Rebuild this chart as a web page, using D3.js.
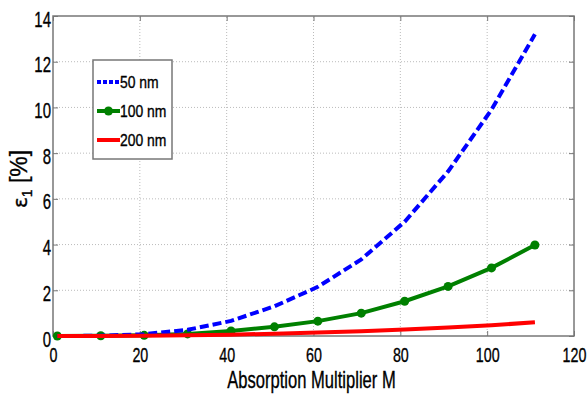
<!DOCTYPE html>
<html>
<head>
<meta charset="utf-8">
<script src="https://cdn.jsdelivr.net/npm/d3@7"></script>
<style>
  body { margin: 0; background: #fff; }
  svg { display: block; }
  text { font-family: "Liberation Sans", Arial, sans-serif; fill: #000; stroke: #000; stroke-width: 0.35; }
</style>
</head>
<body>
<svg id="chart" width="588" height="401"></svg>
<script>
/* ---------- data ---------- */
const multiplier = [1, 11, 21, 31, 41, 51, 61, 71, 81, 91, 101, 111];
const eps50  = [0.0, 0.01, 0.08, 0.27, 0.66, 1.3, 2.15, 3.35, 5.0, 7.2, 9.9, 13.2];
const eps100 = [0.0, 0.01, 0.03, 0.09, 0.22, 0.4, 0.65, 1.0, 1.52, 2.17, 2.98, 3.98];
const eps200 = [0.0, 0.0, 0.01, 0.03, 0.06, 0.1, 0.15, 0.21, 0.28, 0.37, 0.47, 0.6];
const xTicks = [0, 20, 40, 60, 80, 100, 120];
const yTicks = [0, 2, 4, 6, 8, 10, 12, 14];

const series = [
  { label: '50 nm',  values: eps50,  color: '#0000ff', dash: '9,4', marker: false },
  { label: '100 nm', values: eps100, color: '#008000', dash: null,  marker: true },
  { label: '200 nm', values: eps200, color: '#ff0000', dash: null,  marker: false },
];

/* ---------- layout ---------- */
const margin = { left: 53, right: 14, top: 16, bottom: 65 };
const W = 588, H = 401;
const NARROW = 0.68;   // text in the picture is squeezed sideways
const svg = d3.select('#chart');
const x = d3.scaleLinear().domain([0, 120]).range([margin.left, W - margin.right]);
const y = d3.scaleLinear().domain([0, 14]).range([H - margin.bottom, margin.top]);

// grid
const grid = svg.append('g');
xTicks.slice(1, -1).forEach(t => {
  grid.append('line').attr('x1', x(t)).attr('x2', x(t)).attr('y1', y(0)).attr('y2', y(14))
    .attr('stroke', '#bbb').attr('stroke-dasharray', '1,2');
});
yTicks.slice(1, -1).forEach(t => {
  grid.append('line').attr('x1', x(0)).attr('x2', x(120)).attr('y1', y(t)).attr('y2', y(t))
    .attr('stroke', '#bbb').attr('stroke-dasharray', '1,2');
});

// axes (ticks inward, all four sides)
const xAxis = svg.append('g').attr('transform', `translate(0,${y(0)})`)
  .call(d3.axisBottom(x).tickValues(xTicks).tickSizeInner(-5).tickSizeOuter(0));
const yAxis = svg.append('g').attr('transform', `translate(${x(0)},0)`)
  .call(d3.axisLeft(y).tickValues(yTicks).tickSizeInner(-5).tickSizeOuter(0));
svg.append('g').attr('transform', `translate(0,${y(14)})`)
  .call(d3.axisTop(x).tickValues(xTicks).tickSizeInner(-5).tickSizeOuter(0).tickFormat(''));
svg.append('g').attr('transform', `translate(${x(120)},0)`)
  .call(d3.axisRight(y).tickValues(yTicks).tickSizeInner(-5).tickSizeOuter(0).tickFormat(''));
svg.selectAll('.domain').remove();
svg.selectAll('.tick line').attr('stroke', '#777');
xAxis.selectAll('text').attr('font-size', 21).attr('x', 0).attr('y', 0).attr('dy', null)
  .attr('transform', `translate(0,26) scale(${NARROW},1)`);
yAxis.selectAll('text').attr('font-size', 22).attr('x', 0).attr('dy', null)
  .attr('transform', `translate(-2,10) scale(${NARROW},1)`);

// box
svg.append('rect').attr('x', x(0)).attr('y', y(14))
  .attr('width', x(120) - x(0)).attr('height', y(0) - y(14))
  .attr('fill', 'none').attr('stroke', '#777').attr('stroke-width', 1.5);

// lines
const line = d3.line().x((d, i) => x(multiplier[i])).y(d => y(d));
const plot = svg.append('g');
[series[1], series[0], series[2]].forEach(s => {
  plot.append('path').datum(s.values).attr('d', line)
    .attr('fill', 'none').attr('stroke', s.color).attr('stroke-width', 4)
    .attr('stroke-dasharray', s.dash);
  if (s.marker) {
    plot.selectAll(null).data(s.values).enter().append('circle')
      .attr('cx', (d, i) => x(multiplier[i])).attr('cy', d => y(d))
      .attr('r', 4.5).attr('fill', s.color);
  }
});

// axis labels
svg.append('text').attr('transform', `translate(${(x(0) + x(120)) / 2 - 2},388) scale(0.72,1)`)
  .attr('text-anchor', 'middle').attr('font-size', 23).text('Absorption Multiplier M');
const yl = svg.append('text').attr('transform', `translate(27,179) rotate(-90)`)
  .attr('text-anchor', 'middle').attr('font-size', 23);
yl.append('tspan').attr('font-family', 'DejaVu Sans').attr('font-size', 20).text('ε');
yl.append('tspan').attr('font-size', 14).attr('dy', 5).text('1');
yl.append('tspan').attr('dy', -5).text(' [%]');

// legend
const lg = svg.append('g').attr('transform', 'translate(93,60)');
lg.append('rect').attr('width', 79).attr('height', 99)
  .attr('fill', '#fff').attr('stroke', '#777').attr('stroke-width', 1.5);
series.forEach((s, i) => {
  const cy = 22 + i * 29;
  lg.append('line').attr('x1', 4).attr('x2', 27).attr('y1', cy).attr('y2', cy)
    .attr('stroke', s.color).attr('stroke-width', 4).attr('stroke-dasharray', s.dash ? '4,2' : null);
  if (s.marker) lg.append('circle').attr('cx', 15.5).attr('cy', cy).attr('r', 4.5).attr('fill', s.color);
  lg.append('text').attr('transform', `translate(27,${cy + 6}) scale(0.82,1)`)
    .attr('font-size', 17).text(s.label);
});
</script>
</body>
</html>
